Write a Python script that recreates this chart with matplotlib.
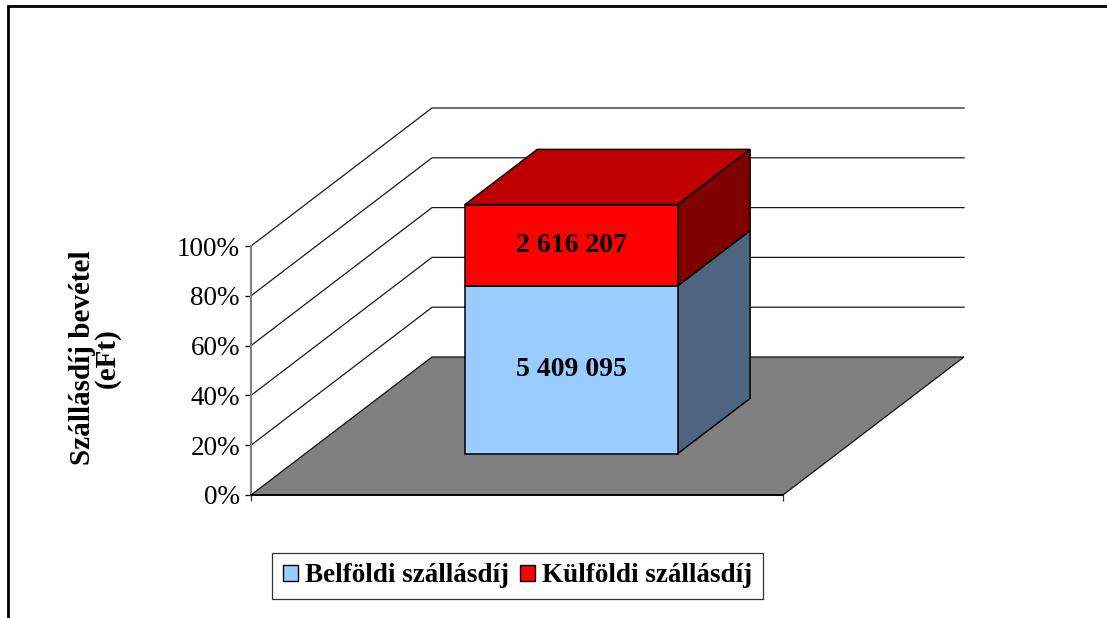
import matplotlib
matplotlib.use("Agg")
import matplotlib.pyplot as plt
from matplotlib.patches import Polygon, Patch, Rectangle
from matplotlib.ticker import PercentFormatter

# data
series_names = ["Belföldi szállásdíj", "Külföldi szállásdíj"]
series_values = [5409095, 2616207]
front_colors = ["#99CCFF", "#FF0000"]
side_colors = ["#4F6480", "#800000"]
top_colors = ["#7FA9D4", "#BF0000"]
y_ticks = [0, 20, 40, 60, 80, 100]
y_title = "Szállásdíj bevétel\n(eFt)"

W, H = 1107, 618
fig = plt.figure(figsize=(W / 100, H / 100), dpi=100)
plt.rcParams["font.family"] = ["Liberation Serif", "DejaVu Serif"]

# front plane of the 3d box: x 0..1 (one category), y 0..100 %
ax = fig.add_axes([251 / W, (H - 495) / H, 532 / W, 249 / H])
ax.set_xlim(0, 1)
ax.set_ylim(0, 100)
ax.patch.set_visible(False)

# oblique depth offset (data units for full depth)
DX = 181 / 532
DY = 138 / 2.49


def proj(x, y, d):
    return (x + d * DX, y + d * DY)


# walls: gridlines on left side wall and back wall
for v in y_ticks[1:]:
    pts = [proj(0, v, 0), proj(0, v, 1), proj(1, v, 1)]
    ax.plot([p[0] for p in pts], [p[1] for p in pts], color="#1a1a1a",
            lw=0.9, clip_on=False, zorder=1)

# floor
floor = Polygon([proj(0, 0, 0), proj(1, 0, 0), proj(1, 0, 1), proj(0, 0, 1)],
                closed=True, facecolor="#808080", edgecolor="#111111",
                lw=0.9, clip_on=False, zorder=2)
ax.add_patch(floor)

# stacked 100% bar
total = sum(series_values)
x0, x1 = 0.3, 0.7
d0, d1 = 0.3, 0.7
bottom = 0
for i, val in enumerate(series_values):
    pct = val / total * 100
    top = bottom + pct
    front = [proj(x0, bottom, d0), proj(x1, bottom, d0), proj(x1, top, d0), proj(x0, top, d0)]
    side = [proj(x1, bottom, d0), proj(x1, bottom, d1), proj(x1, top, d1), proj(x1, top, d0)]
    for poly, col in [(side, side_colors[i]), (front, front_colors[i])]:
        ax.add_patch(Polygon(poly, closed=True, facecolor=col, edgecolor="black",
                             lw=1.1, clip_on=False, zorder=3))
    if i == len(series_values) - 1:
        lid = [proj(x0, top, d0), proj(x1, top, d0), proj(x1, top, d1), proj(x0, top, d1)]
        ax.add_patch(Polygon(lid, closed=True, facecolor=top_colors[i], edgecolor="black",
                             lw=1.1, clip_on=False, zorder=3))
    cx, cy = proj(0.5, (bottom + top) / 2, d0)
    ax.text(cx, cy, f"{val:,}".replace(",", " "), ha="center", va="center",
            fontsize=20, fontweight="bold", zorder=4)
    bottom = top

# axes styling
for s in ["top", "right"]:
    ax.spines[s].set_visible(False)
ax.spines["left"].set_color("#808080")
ax.spines["left"].set_linewidth(1.5)
ax.spines["bottom"].set_color("black")
ax.spines["bottom"].set_linewidth(1.3)
ax.spines["left"].set_zorder(5)
ax.spines["bottom"].set_zorder(5)
ax.set_yticks(y_ticks)
ax.yaxis.set_major_formatter(PercentFormatter(decimals=0))
ax.tick_params(axis="y", direction="out", length=4.5, width=0.9, color="black",
               pad=3.5, labelsize=19.5)
ax.set_xticks([0, 1])
ax.set_xticklabels(["", ""])
ax.tick_params(axis="x", direction="out", length=4, width=0.9, color="#333333")

fig.text(95 / W, 1 - 358 / H, y_title, rotation=90, ha="center", va="center",
         fontsize=21, fontweight="bold", linespacing=0.9)

handles = [Patch(facecolor=c, edgecolor="black", lw=1.0) for c in front_colors]
leg = fig.legend(handles, series_names, loc="center",
                 bbox_to_anchor=(517.5 / W, 1 - 576 / H), ncol=2,
                 prop={"size": 19.5, "weight": "bold"}, frameon=True, fancybox=False,
                 edgecolor="black", handlelength=0.55, handleheight=0.55,
                 handletextpad=0.25, columnspacing=0.4, borderpad=0.4,
                 borderaxespad=0)
leg.get_frame().set_linewidth(0.9)

# outer chart frame (only top and left edges visible)
fig.add_artist(Rectangle((8 / W, -0.1), 1.2, 1.1 - 6 / H, fill=False,
                         edgecolor="black", lw=2.0, transform=fig.transFigure))

fig.savefig("out.png", dpi=100)
